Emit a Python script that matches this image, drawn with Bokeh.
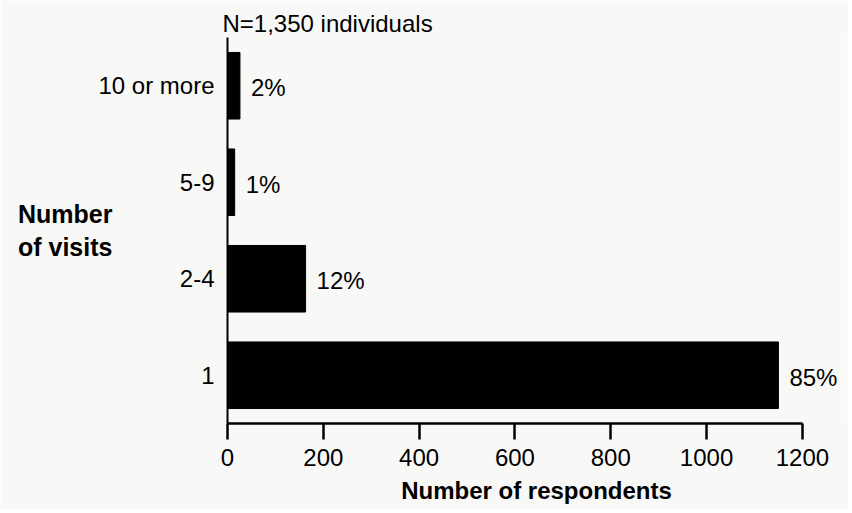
from bokeh.plotting import figure
from bokeh.models import ColumnDataSource, FactorRange, Range1d, LabelSet, FixedTicker
from bokeh.core.properties import value
from bokeh.embed import file_html
from bokeh.resources import INLINE

categories = ["1", "2-4", "5-9", "10 or more"]
respondents = [1150, 163, 15, 26]
pct_labels = ["85%", "12%", "1%", "2%"]
x_ticks = [0, 200, 400, 600, 800, 1000, 1200]

FONT = "Liberation Sans"
FS = "24px"
BG = "#f8f8f6"

src = ColumnDataSource(dict(cat=categories, val=respondents, pct=pct_labels))

p = figure(width=848, height=509, output_backend="svg", toolbar_location=None,
           y_range=FactorRange(factors=categories, range_padding=0),
           x_range=Range1d(0, 1290),
           min_border_left=227, min_border_right=3, min_border_top=37, min_border_bottom=86,
           background_fill_color=BG, border_fill_color=BG, outline_line_color=None)

p.title.text = "N=1,350 individuals"
p.title.align = "left"
p.title.offset = -5
p.title.standoff = 2
p.title.text_font = FONT
p.title.text_font_size = FS
p.title.text_font_style = "normal"
p.title.text_color = "black"

p.hbar(y="cat", right="val", left=0, height=0.69, source=src, color="black")

p.xgrid.visible = False
p.ygrid.visible = False

xa = p.xaxis[0]
xa.bounds = (0, 1200)
xa.ticker = FixedTicker(ticks=x_ticks)
xa.axis_line_width = 2.5
xa.axis_line_color = "black"
xa.major_tick_line_width = 2.5
xa.major_tick_out = 16
xa.major_tick_in = 0
xa.minor_tick_out = 0
xa.minor_tick_in = 0
xa.major_label_standoff = 9
xa.major_label_text_font = FONT
xa.major_label_text_font_size = FS
xa.major_label_text_color = "black"
xa.axis_label = "Number of respondents"
xa.axis_label_text_font = FONT
xa.axis_label_text_font_size = FS
xa.axis_label_text_font_style = "bold"
xa.axis_label_text_color = "black"
xa.axis_label_standoff = 8

ya = p.yaxis[0]
ya.axis_line_width = 2
ya.axis_line_color = "black"
ya.major_tick_out = 0
ya.major_tick_in = 0
ya.major_label_standoff = 13
ya.major_label_text_font = FONT
ya.major_label_text_font_size = FS
ya.major_label_text_color = "black"
ya.axis_label = "Number\nof visits"
ya.axis_label_orientation = "horizontal"
ya.axis_label_text_align = "left"
ya.axis_label_standoff = -17
ya.axis_label_text_font = FONT
ya.axis_label_text_font_size = "25px"
ya.axis_label_text_font_style = "bold"
ya.axis_label_text_color = "black"

p.add_layout(LabelSet(x="val", y="cat", text="pct", source=src, x_offset=11, y_offset=-2,
                      text_baseline="middle", text_font=value(FONT), text_font_size=value(FS),
                      text_color="black"))

open("out.html", "w").write(file_html(p, INLINE))
